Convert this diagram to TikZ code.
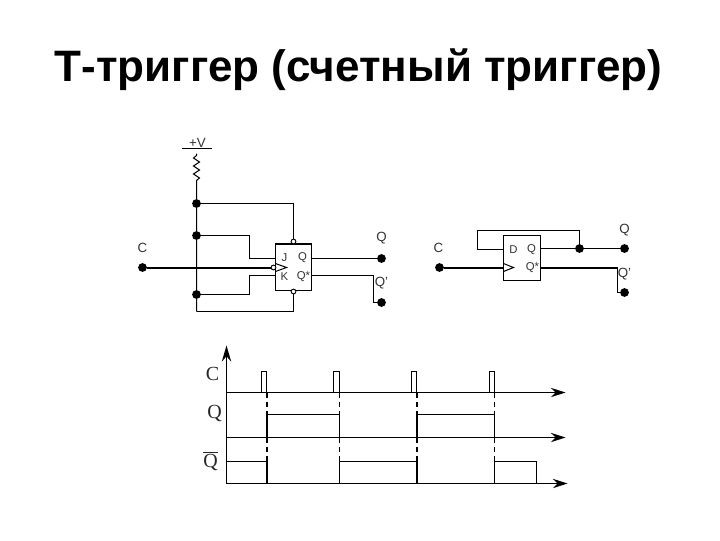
\documentclass[tikz,border=0pt]{standalone}
\usepackage{fontspec}
\usetikzlibrary{arrows.meta}
\setmainfont{Liberation Sans}
\newfontfamily\serifface{Liberation Serif}
\tikzset{
	dot/.style={circle,fill=black,inner sep=0pt,minimum size=6.6pt},
	pin/.style={circle,draw,fill=white,line width=0.7pt,inner sep=0pt,minimum size=3.6pt},
	ffbox/.style={draw,line width=0.75pt,inner sep=0pt},
	wire/.style={line width=0.75pt},
	thickwire/.style={line width=1.5pt},
	lbl/.style={font=\fontsize{10}{10}\selectfont,inner sep=0pt,text=black!80},
	inlbl/.style={font=\fontsize{8.5}{8.5}\selectfont,inner sep=0pt,text=black!80},
	sig/.style={line width=0.75pt},
	siglbl/.style={font=\fontsize{15}{15}\selectfont\serifface,inner sep=0pt,text=black!85}
}
\begin{document}
\begin{tikzpicture}[x=0.75pt,y=-0.75pt,line join=miter,>=stealth]
	\useasboundingbox (0,0) rectangle (720,540);
	\node[font=\fontsize{33}{33}\selectfont\bfseries] (title) at (358.5,70) {Т-триггер (счетный триггер)};
	\begin{scope}[shift={(0.5,0.5)}]
	% JK
	\node[lbl] (plusv) at (197,142) {+V};
	\coordinate (vl) at (181,148);
	\coordinate (vr) at (211,148);
	\draw[wire] (vl)--(vr);
	\coordinate (rt) at (196,153);
	\coordinate (rb) at (196,180);
	\coordinate (vbot) at (196,311);
	\node[dot] (d1) at (196,203) {};
	\node[dot] (d2) at (196,235) {};
	\node[dot] (d3) at (196,294) {};
	\node[dot] (c1) at (142,267) {};
	\node[dot] (q1) at (381,258) {};
	\node[dot] (nq1) at (381,302) {};
	\node[ffbox,minimum width=27pt,minimum height=34.5pt] (jk) at (293,267) {};
	\draw[line width=1.5pt] (jk.north west)--(jk.north east);
	\node[pin] (set) at (293,241) {};
	\node[pin] (clr) at (293,291) {};
	\node[pin] (clk) at (273,267) {};
	\node[inlbl] (jl) at (284,257) {J};
	\node[inlbl] (kl) at (284,276) {K};
	\node[inlbl] (ql) at (302,257) {Q};
	\node[inlbl] (nql) at (303,276) {Q*};
	\node[lbl] (cl1) at (142,247) {C};
	\node[lbl] (qo1) at (381,238) {Q};
	\node[lbl] (nqo1) at (381,283) {Q'};
	\draw[wire] (rt)--++(0,2)--++(-3,2.5)--++(6,4)--++(-6,4)--++(6,4)--++(-6,4)--++(6,4)--(rb)--(vbot);
	\draw[wire] (d1)-|(set);
	\draw[wire] (d2)-|(249,258)--(275,258);
	\draw[wire] (d3)-|(249,275)--(275,275);
	\draw[wire] (vbot)-|(clr);
	\draw[thickwire] (c1)--(clk);
	\draw[wire] (275,263)--(286,267)--(275,271);
	\draw[wire] (311,258)--(q1);
	\draw[wire] (311,275)--(373,275)--(373,302)--(nq1);
	% D
	\node[ffbox,minimum width=27.75pt,minimum height=33.75pt] (dff) at (521.5,257.5) {};
	\node[dot] (fb) at (579,248) {};
	\node[dot] (c2) at (439,267) {};
	\node[dot] (q2) at (624,248) {};
	\node[dot] (nq2) at (624,292) {};
	\node[inlbl] (dl) at (513,249) {D};
	\node[inlbl] (ql2) at (531,249) {Q};
	\node[inlbl] (nql2) at (532,267) {Q*};
	\node[lbl] (cl2) at (438,247) {C};
	\node[lbl] (qo2) at (624,230) {Q};
	\node[lbl] (nqo2) at (624,274) {Q'};
	\draw[wire] (503,249)--(477,249)--(477,230)-|(fb);
	\draw[wire] (540,248)--(q2);
	\draw[thickwire] (c2)--(503,267);
	\draw[wire] (503,263)--(513,267)--(503,271);
	\draw[thickwire] (540,267)--(617,267);
	\draw[wire] (617,267)--(617,292)--(nq2);
	% diagram
	\coordinate (o) at (226,483);
	\coordinate (ot) at (226,345);
	\coordinate (a1) at (226,392);
	\coordinate (a2) at (226,437);
	\coordinate (e1) at (565,392);
	\coordinate (e2) at (565,437);
	\coordinate (e3) at (567,483);
	\draw[line width=1.3pt,-{Stealth[length=12pt,width=7pt]}] (o)--(ot);
	\foreach \s/\e in {a1/e1,a2/e2,o/e3}
	\draw[sig,-{Stealth[length=11pt,width=7pt]}] (\s)--(\e);
	\foreach \x/\w in {266.5/1.5,339/0.75,416.5/1.5,494/0.75}{
		\draw[line width=\w pt,dash pattern=on 4pt off 3pt] (\x,392)--(\x,414);
		\draw[line width=\w pt] (\x,414)--(\x,437);
		\draw[line width=\w pt,dash pattern=on 4pt off 3pt] (\x,437)--(\x,461);
		\draw[line width=\w pt] (\x,461)--(\x,483);
	}
	\foreach \a/\b in {261/266,333/339,411/416,489/494}
	\draw[sig] (\a,392)--(\a,371)--(\b,371)--(\b,392);
	\foreach \a/\b in {266/339,416/494}
	\draw[sig] (\a,414)--(\b,414);
	\foreach \a/\b in {226/266,339/416}
	\draw[sig] (\a,461)--(\b,461);
	\draw[sig] (494,461)--(536,461)--(536,483);
	\node[siglbl] (cs) at (212,373) {C};
	\node[siglbl] (qs) at (214,413) {Q};
	\node[siglbl] (nqs) at (210,461) {$\overline{\mbox{Q}}$};
	\end{scope}
\end{tikzpicture}
\end{document}
